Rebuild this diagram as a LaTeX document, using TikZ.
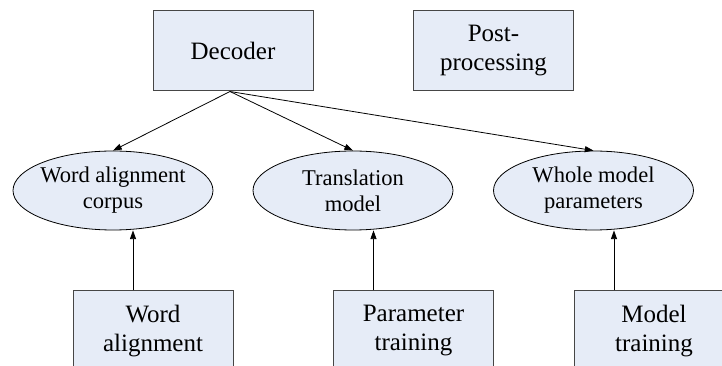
\documentclass[tikz,border=0pt]{standalone}
\usepackage{fontspec}
\setmainfont{LiberationSerif}[Extension=.ttf,UprightFont=*-Regular]
\usetikzlibrary{shapes.geometric,arrows.meta,calc}
\definecolor{boxfill}{RGB}{230,236,247}
\definecolor{boxline}{RGB}{70,70,70}
\begin{document}
\begin{tikzpicture}[x=0.75pt,y=-0.75pt,
  box/.style={draw=boxline,line width=0.75pt,fill=boxfill,rectangle,inner sep=0pt,
    minimum width=120pt,minimum height=60pt,align=center,
    font=\rmfamily\fontsize{18.75}{21.75}\selectfont},
  ell/.style={draw=black,line width=0.6pt,fill=boxfill,ellipse,inner sep=0pt,
    minimum width=150pt,minimum height=59.25pt},
  etext/.style={align=center,inner sep=0pt,font=\rmfamily\fontsize{16.9}{19.5}\selectfont},
  arr/.style={draw=black,line width=0.6pt,-{Triangle[length=6.5pt,width=4.5pt]}}]
\path[use as bounding box] (0,0) rectangle (722,366);
\clip (0,0) rectangle (722,366);
\fill[white] (0,0) rectangle (722,366);
\node[box] (dec) at (233,51) {Decoder};
\node[box] (post) at (493.5,51) {Post-\\processing};
\node[ell] (e1) at (113,190.5) {};
\node[ell] (e2) at (353,190.5) {};
\node[ell] (e3) at (593.5,190.5) {};
\node[etext] (t1) at (e1.center) {Word alignment\\corpus};
\node[etext] (t2) at (e2.center) {Translation\\model};
\node[etext] (t3) at (e3.center) {Whole model\\parameters};
\node[box] (b1) at (153,331) {Word\\alignment};
\node[box] (b2) at (413.5,331) {Parameter\\training};
\node[box] (b3) at (654,331) {Model\\training};
\draw[arr] ($(dec.south)+(-3,0)$) -- (e1.north);
\draw[arr] ($(dec.south)+(-3,0)$) -- (e2.north);
\draw[arr] ($(dec.south)+(-3,0)$) -- (e3.north);
\coordinate (a1) at ($(b1.north)+(-20,0)$);
\coordinate (a2) at ($(b2.north)+(-40,0)$);
\coordinate (a3) at ($(b3.north)+(-40,0)$);
\draw[arr] (a1) -- (a1 |- e1.south);
\draw[arr] (a2) -- (a2 |- e2.south);
\draw[arr] (a3) -- (a3 |- e3.south);
\end{tikzpicture}
\end{document}
